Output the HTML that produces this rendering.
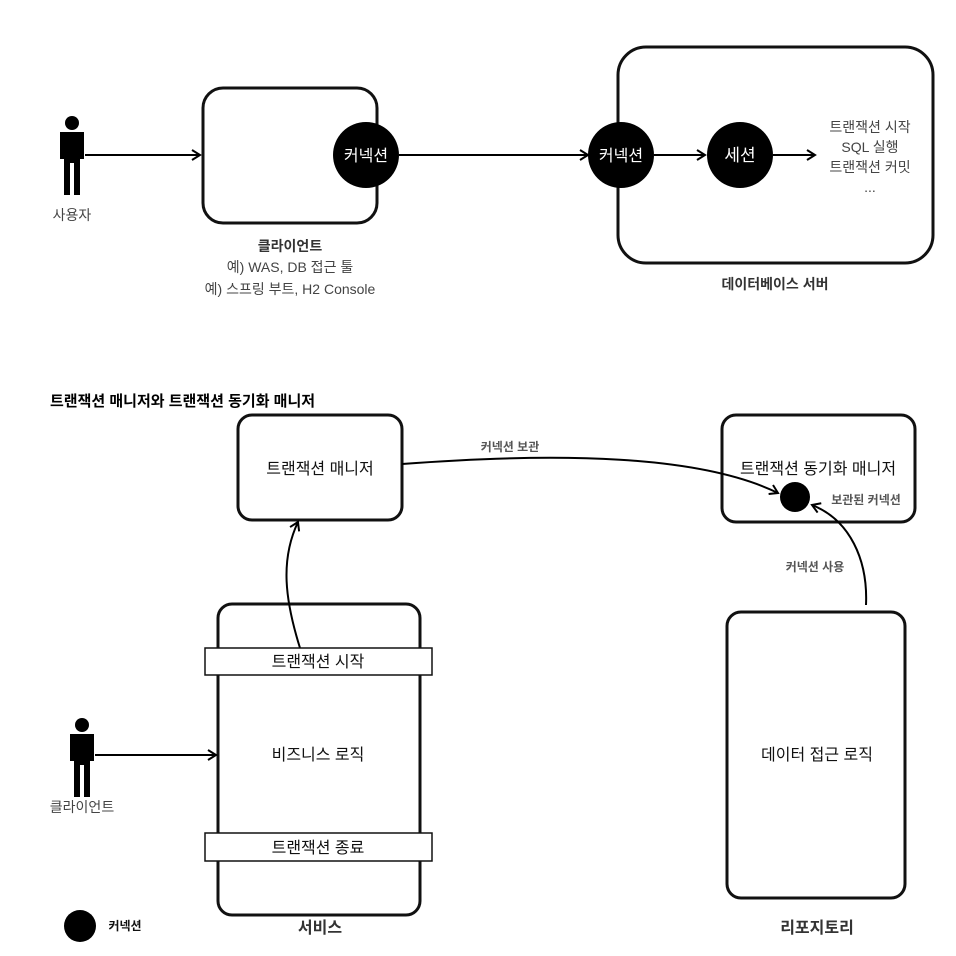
<!DOCTYPE html>
<html><head><meta charset="utf-8"><style>
body{margin:0;background:#fff}
svg text{font-family:"Liberation Sans","Noto Sans CJK KR",sans-serif}
</style></head><body>
<svg width="956" height="951" viewBox="0 0 956 951" xmlns="http://www.w3.org/2000/svg">
<defs>
<marker id="a" markerWidth="12" markerHeight="12" refX="10" refY="6" orient="auto" markerUnits="userSpaceOnUse">
<path d="M2,1 L10,6 L2,11" fill="none" stroke="#000" stroke-width="2"/></marker>
<g id="person">
<circle cx="0" cy="-32" r="7" fill="#000"/>
<path d="M-12,-23 h24 v27 h-4 v36 h-6 v-32 h-4 v32 h-6 v-36 h-4 z" fill="#000"/>
</g>
</defs>
<g fill="none" stroke="#111" stroke-width="3">
<rect x="203" y="88" width="174" height="135" rx="20"/>
<rect x="618" y="47" width="315" height="216" rx="28"/>
<rect x="238" y="415" width="164" height="105" rx="14"/>
<rect x="722" y="415" width="193" height="107" rx="14"/>
<rect x="218" y="604" width="202" height="311" rx="14"/>
<rect x="727" y="612" width="178" height="286" rx="14"/>
</g>
<use href="#person" x="72" y="155"/>
<use href="#person" x="82" y="757"/>
<g stroke="#000" stroke-width="2" fill="none" marker-end="url(#a)">
<line x1="85" y1="155" x2="200" y2="155"/>
<line x1="399" y1="155" x2="588" y2="155"/>
<line x1="654" y1="155" x2="705" y2="155"/>
<line x1="773" y1="155" x2="815" y2="155"/>
<line x1="95" y1="755" x2="216" y2="755"/>
<path d="M402,464 C560,452 700,455 778,493"/>
<path d="M300,648 C285,600 280,560 298,522"/>
<path d="M866,605 C868,560 850,520 812,505"/>
</g>
<g fill="#000">
<circle cx="366" cy="155" r="33"/>
<circle cx="621" cy="155" r="33"/>
<circle cx="740" cy="155" r="33"/>
<circle cx="795" cy="497" r="15"/>
<circle cx="80" cy="926" r="16"/>
</g>
<g fill="#fff" font-size="16" text-anchor="middle">
<text x="366" y="161">커넥션</text>
<text x="621" y="161">커넥션</text>
<text x="740" y="161" font-size="17">세션</text>
</g>
<g fill="#fff" stroke="#111" stroke-width="1.5">
<rect x="205" y="648" width="227" height="27"/>
<rect x="205" y="833" width="227" height="28"/>
</g>
<g font-size="14" fill="#444" text-anchor="middle">
<text x="72" y="220">사용자</text>
<text x="290" y="272">예) WAS, DB 접근 툴</text>
<text x="290" y="294">예) 스프링 부트, H2 Console</text>
<text x="870" y="132">트랜잭션 시작</text>
<text x="870" y="152">SQL 실행</text>
<text x="870" y="172">트랜잭션 커밋</text>
<text x="870" y="192">...</text>
<text x="82" y="812">클라이언트</text>
</g>
<g font-size="14" fill="#333" font-weight="bold" text-anchor="middle">
<text x="290" y="251">클라이언트</text>
<text x="775" y="289">데이터베이스 서버</text>
<text x="510" y="451" font-size="12" fill="#555">커넥션 보관</text>
<text x="866" y="504" font-size="12" fill="#555">보관된 커넥션</text>
<text x="815" y="571" font-size="12" fill="#555">커넥션 사용</text>
<text x="125" y="930" font-size="12" fill="#111">커넥션</text>
</g>
<text x="50" y="406" font-size="15" font-weight="bold" fill="#000">트랜잭션 매니저와 트랜잭션 동기화 매니저</text>
<g font-size="16" fill="#111" text-anchor="middle">
<text x="320" y="474">트랜잭션 매니저</text>
<text x="818" y="474">트랜잭션 동기화 매니저</text>
<text x="318" y="667">트랜잭션 시작</text>
<text x="318" y="760">비즈니스 로직</text>
<text x="318" y="853">트랜잭션 종료</text>
<text x="817" y="760">데이터 접근 로직</text>
</g>
<g font-size="16" font-weight="bold" fill="#333" text-anchor="middle">
<text x="320" y="933">서비스</text>
<text x="817" y="933">리포지토리</text>
</g>
</svg>
</body></html>
